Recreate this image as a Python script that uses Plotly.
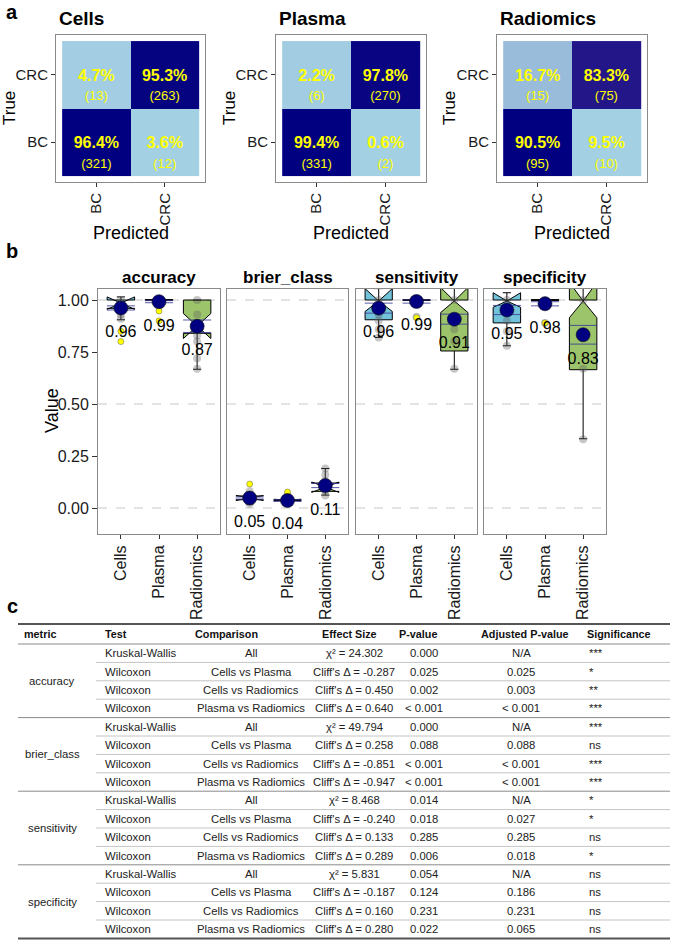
import numpy as np
import plotly.graph_objects as go

W, H = 673, 945
FONT = "Liberation Sans, Arial, Helvetica, sans-serif"

# ---------------- panel a data ----------------
cm_titles = ["Cells", "Plasma", "Radiomics"]
cm_labels = ["BC", "CRC"]
# rows = True class (BC, CRC); columns = Predicted class (BC, CRC)
cells_pct = [[96.4, 3.6], [4.7, 95.3]]
cells_n = [[321, 12], [13, 263]]
plasma_pct = [[99.4, 0.6], [2.2, 97.8]]
plasma_n = [[331, 2], [6, 270]]
radiomics_pct = [[90.5, 9.5], [16.7, 83.3]]
radiomics_n = [[95, 10], [15, 75]]

# ---------------- panel b data ----------------
metrics = ["accuracy", "brier_class", "sensitivity", "specificity"]
groups = ["Cells", "Plasma", "Radiomics"]
box_q1 = {"accuracy": [0.96, 1.0, 0.84], "brier_class": [0.040, 0.036, 0.080],
          "sensitivity": [0.905, 1.0, 0.755], "specificity": [0.89, 1.0, 0.665]}
box_med = {"accuracy": [0.985, 1.0, 0.875], "brier_class": [0.048, 0.038, 0.100],
           "sensitivity": [1.0, 1.0, 1.0], "specificity": [1.0, 1.0, 1.0]}
box_q3 = {"accuracy": [1.0, 1.0, 1.0], "brier_class": [0.058, 0.041, 0.120],
          "sensitivity": [1.0, 1.0, 1.0], "specificity": [1.0, 1.0, 1.0]}
box_lo = {"accuracy": [0.905, 1.0, 0.667], "brier_class": [0.020, 0.030, 0.062],
          "sensitivity": [0.82, 1.0, 0.667], "specificity": [0.78, 1.0, 0.333]}
box_hi = {"accuracy": [1.0, 1.0, 1.0], "brier_class": [0.075, 0.050, 0.190],
          "sensitivity": [1.0, 1.0, 1.0], "specificity": [1.0, 1.0, 1.0]}
box_notch = {"accuracy": [0.03, 0.002, 0.06], "brier_class": [0.012, 0.004, 0.025],
             "sensitivity": [0.055, 0.002, 0.06], "specificity": [0.035, 0.002, 0.085]}
means = {"accuracy": [0.962, 0.992, 0.874], "brier_class": [0.048, 0.036, 0.108],
         "sensitivity": [0.961, 0.993, 0.908], "specificity": [0.952, 0.982, 0.833]}
mean_ci = {"accuracy": [0.01, 0.005, 0.03], "brier_class": [0.005, 0.004, 0.01],
           "sensitivity": [0.024, 0.008, 0.024], "specificity": [0.022, 0.01, 0.045]}
points = {
    "accuracy": [[1.0, 0.98, 0.96, 0.93, 0.91], [1.0, 0.97], [1.0, 0.93, 0.83, 0.80, 0.72, 0.67]],
    "brier_class": [[0.02, 0.03, 0.045, 0.06, 0.08], [0.03, 0.035, 0.045, 0.06],
                    [0.06, 0.08, 0.10, 0.13, 0.16, 0.19]],
    "sensitivity": [[1.0, 0.93, 0.90, 0.86, 0.82], [1.0, 0.92], [1.0, 0.86, 0.80, 0.67]],
    "specificity": [[1.0, 0.90, 0.85, 0.78], [1.0, 0.89], [1.0, 0.67, 0.33]],
}
outliers = {
    "accuracy": [[0.85, 0.80], [0.947, 0.90], []],
    "brier_class": [[0.115], [0.077], []],
    "sensitivity": [[], [0.915], []],
    "specificity": [[], [0.89], []],
}
y_ticks = [0.0, 0.25, 0.5, 0.75, 1.0]
ref_lines = [0.0, 0.5, 1.0]

# ---------------- panel c data ----------------
tbl_header = ["metric", "Test", "Comparison", "Effect Size", "P-value", "Adjusted P-value", "Significance"]
tbl_metric = ["accuracy", "brier_class", "sensitivity", "specificity"]
tbl_test = ["Kruskal-Wallis", "Wilcoxon", "Wilcoxon", "Wilcoxon"] * 4
tbl_comp = ["All", "Cells vs Plasma", "Cells vs Radiomics", "Plasma vs Radiomics"] * 4
tbl_effect = ["χ² = 24.302", "Cliff's Δ = -0.287", "Cliff's Δ = 0.450", "Cliff's Δ = 0.640",
              "χ² = 49.794", "Cliff's Δ = 0.258", "Cliff's Δ = -0.851", "Cliff's Δ = -0.947",
              "χ² = 8.468", "Cliff's Δ = -0.240", "Cliff's Δ = 0.133", "Cliff's Δ = 0.289",
              "χ² = 5.831", "Cliff's Δ = -0.187", "Cliff's Δ = 0.160", "Cliff's Δ = 0.280"]
tbl_p = ["0.000", "0.025", "0.002", "< 0.001", "0.000", "0.088", "< 0.001", "< 0.001",
         "0.014", "0.018", "0.285", "0.006", "0.054", "0.124", "0.231", "0.022"]
tbl_padj = ["N/A", "0.025", "0.003", "< 0.001", "N/A", "0.088", "< 0.001", "< 0.001",
            "N/A", "0.027", "0.285", "0.018", "N/A", "0.186", "0.231", "0.065"]
tbl_sig = ["***", "*", "**", "***", "***", "ns", "***", "***",
           "*", "*", "ns", "*", "ns", "ns", "ns", "ns"]


def fx(x):
    return x / W


def fy(y):
    return 1 - y / H


# ---- Lab interpolation for the gradient (light blue -> navy) ----
def _lin(c):
    c = c / 255.0
    return np.where(c <= 0.04045, c / 12.92, ((c + 0.055) / 1.055) ** 2.4)


def _unlin(c):
    c = np.where(c <= 0.0031308, 12.92 * c, 1.055 * np.power(np.clip(c, 0, None), 1 / 2.4) - 0.055)
    return np.clip(np.round(c * 255), 0, 255)


M = np.array([[0.4124, 0.3576, 0.1805], [0.2126, 0.7152, 0.0722], [0.0193, 0.1192, 0.9505]])
WP = np.array([0.95047, 1.0, 1.08883])


def rgb2lab(rgb):
    xyz = M @ _lin(np.array(rgb, float)) / WP
    f = np.where(xyz > 0.008856, np.cbrt(xyz), 7.787 * xyz + 16 / 116)
    return np.array([116 * f[1] - 16, 500 * (f[0] - f[1]), 200 * (f[1] - f[2])])


def lab2rgb(lab):
    fy_ = (lab[0] + 16) / 116
    fx_ = fy_ + lab[1] / 500
    fz_ = fy_ - lab[2] / 200
    f = np.array([fx_, fy_, fz_])
    xyz = np.where(f ** 3 > 0.008856, f ** 3, (f - 16 / 116) / 7.787) * WP
    return _unlin(np.linalg.inv(M) @ xyz)


lo_lab, hi_lab = rgb2lab((163, 208, 227)), rgb2lab((0, 0, 128))
scale = []
for t in np.linspace(0, 1, 21):
    c = lab2rgb(lo_lab + (hi_lab - lo_lab) * t)
    scale.append([float(t), "rgb(%d,%d,%d)" % tuple(int(v) for v in c)])

fig = go.Figure()
layout = {}
ann = []
shapes = []

AX_LINE = "#8a8a8a"
TICK_C = "#333333"

# ---------------- panel a ----------------
cm_sets = [(cells_pct, cells_n), (plasma_pct, plasma_n), (radiomics_pct, radiomics_n)]
cm_xdom = [(56, 205), (276, 426), (497, 647)]
cm_ydom = (35, 182)
cm_true_x = [9, 229, 449]
for i, (pct, cnt) in enumerate(cm_sets):
    k = i + 1
    xs = "x" if k == 1 else f"x{k}"
    ys = "y" if k == 1 else f"y{k}"
    flat = [v for row in pct for v in row]
    fig.add_trace(go.Heatmap(z=pct, x=[1, 2], y=[1, 2], colorscale=scale, zmin=min(flat), zmax=max(flat),
                             showscale=False, hoverinfo="skip", xaxis=xs, yaxis=ys))
    tx, ty, tp, tc = [], [], [], []
    for r in range(2):
        for c in range(2):
            tx.append(c + 1)
            ty.append(r + 1)
            tp.append(f"<b>{pct[r][c]:.1f}%</b>")
            tc.append(f"({cnt[r][c]})")
    fig.add_trace(go.Scatter(x=tx, y=[v - 0.03 for v in ty], text=tp, mode="text",
                             textfont=dict(size=16, color="#ffff00", family=FONT),
                             hoverinfo="skip", xaxis=xs, yaxis=ys))
    fig.add_trace(go.Scatter(x=tx, y=[v - 0.33 for v in ty], text=tc, mode="text",
                             textfont=dict(size=13, color="#ffff00", family=FONT),
                             hoverinfo="skip", xaxis=xs, yaxis=ys))
    xk = "xaxis" if k == 1 else f"xaxis{k}"
    yk = "yaxis" if k == 1 else f"yaxis{k}"
    layout[xk] = dict(domain=[fx(cm_xdom[i][0]), fx(cm_xdom[i][1])], anchor=ys, range=[0.41, 2.59],
                      tickvals=[1, 2], ticktext=cm_labels, tickangle=-90, ticks="outside", ticklen=4,
                      tickcolor=TICK_C, tickfont=dict(size=15, color="#1a1a1a"), showline=True, mirror=True,
                      linecolor=AX_LINE, linewidth=1, showgrid=False, zeroline=False, fixedrange=True)
    layout[yk] = dict(domain=[fy(cm_ydom[1]), fy(cm_ydom[0])], anchor=xs, range=[0.41, 2.59],
                      tickvals=[1, 2], ticktext=cm_labels, ticks="outside", ticklen=4,
                      tickcolor=TICK_C, tickfont=dict(size=15, color="#1a1a1a"), showline=True, mirror=True,
                      linecolor=AX_LINE, linewidth=1, showgrid=False, zeroline=False, fixedrange=True)
    ann.append(dict(text=f"<b>{cm_titles[i]}</b>", x=fx(cm_xdom[i][0] + 1), y=fy(18), xref="paper", yref="paper",
                    xanchor="left", yanchor="middle", showarrow=False, font=dict(size=19, family=FONT)))
    ann.append(dict(text="True", x=fx(cm_true_x[i]), y=fy(108), xref="paper", yref="paper", textangle=-90,
                    xanchor="center", yanchor="middle", showarrow=False, font=dict(size=17, family=FONT)))
    ann.append(dict(text="Predicted", x=fx((cm_xdom[i][0] + cm_xdom[i][1]) / 2), y=fy(233), xref="paper",
                    yref="paper", xanchor="center", yanchor="middle", showarrow=False,
                    font=dict(size=18, family=FONT)))

# ---------------- panel b ----------------
b_xdom = [(98, 220), (227, 348), (356, 477), (484, 606)]
b_ydom = (289, 534)
box_fill = ["#72C2DA", "#8C9AD8", "#9CC46B"]
for j, m in enumerate(metrics):
    k = 4 + j
    xs, ys = f"x{k}", f"y{k}"
    for g in range(3):
        fig.add_trace(go.Box(x=[groups[g]], q1=[box_q1[m][g]], median=[box_med[m][g]], q3=[box_q3[m][g]],
                             lowerfence=[box_lo[m][g]], upperfence=[box_hi[m][g]],
                             notchspan=[box_notch[m][g]], notched=True, notchwidth=0.5, width=0.72,
                             whiskerwidth=0.3, fillcolor=box_fill[g], line=dict(color="black", width=1),
                             boxpoints=False, hoverinfo="skip", xaxis=xs, yaxis=ys))
    for g in range(3):
        fig.add_trace(go.Scatter(x=[groups[g]] * len(points[m][g]), y=points[m][g], mode="markers",
                                 marker=dict(size=8, color="rgba(95,95,95,0.35)"),
                                 hoverinfo="skip", xaxis=xs, yaxis=ys))
    for g in range(3):
        if outliers[m][g]:
            fig.add_trace(go.Scatter(x=[groups[g]] * len(outliers[m][g]), y=outliers[m][g], mode="markers",
                                     marker=dict(size=6, color="#ffff00",
                                                 line=dict(color="rgba(70,70,70,0.7)", width=0.6)),
                                     hoverinfo="skip", xaxis=xs, yaxis=ys))
    ci_y = [means[m][g] + s * mean_ci[m][g] for s in (1, -1) for g in range(3)]
    fig.add_trace(go.Scatter(x=groups * 2, y=ci_y, mode="markers",
                             marker=dict(symbol="line-ew", size=20, line=dict(color="rgba(60,60,150,0.85)", width=1)),
                             hoverinfo="skip", xaxis=xs, yaxis=ys))
    fig.add_trace(go.Scatter(x=groups, y=means[m], mode="markers",
                             marker=dict(size=14, color="#000080", line=dict(color="#111111", width=0.6)),
                             hoverinfo="skip", xaxis=xs, yaxis=ys))
    fig.add_trace(go.Scatter(x=groups, y=[v - 0.12 for v in means[m]], text=[f"{v:.2f}" for v in means[m]],
                             mode="text", textfont=dict(size=16, color="black", family=FONT), cliponaxis=False,
                             hoverinfo="skip", xaxis=xs, yaxis=ys))
    layout[f"xaxis{k}"] = dict(domain=[fx(b_xdom[j][0]), fx(b_xdom[j][1])], anchor=ys, type="category",
                               categoryorder="array", categoryarray=groups, range=[-0.6, 2.6],
                               tickangle=-90, ticks="outside", ticklen=4, tickcolor=TICK_C,
                               tickfont=dict(size=16, color="#1a1a1a"), showline=True, mirror=True,
                               linecolor=AX_LINE, linewidth=1, showgrid=False, zeroline=False, fixedrange=True)
    layout[f"yaxis{k}"] = dict(domain=[fy(b_ydom[1]), fy(b_ydom[0])], anchor=xs, range=[-0.125, 1.053],
                               tickvals=y_ticks, ticktext=[f"{v:.2f}" for v in y_ticks],
                               showticklabels=(j == 0), ticks="outside" if j == 0 else "", ticklen=5,
                               tickcolor=TICK_C, tickfont=dict(size=16, color="#1a1a1a"), showline=True,
                               mirror=True, linecolor=AX_LINE, linewidth=1, showgrid=False, zeroline=False,
                               fixedrange=True)
    for v in ref_lines:
        shapes.append(dict(type="line", xref=f"x{k} domain", yref=ys, x0=0, x1=1, y0=v, y1=v, layer="below",
                           line=dict(color="#c8c8c8", width=1, dash="dash")))
    ann.append(dict(text=f"<b>{m}</b>", x=fx((b_xdom[j][0] + b_xdom[j][1]) / 2), y=fy(277), xref="paper",
                    yref="paper", xanchor="center", yanchor="middle", showarrow=False,
                    font=dict(size=17, family=FONT)))
ann.append(dict(text="Value", x=fx(52), y=fy(411), xref="paper", yref="paper", textangle=-90,
                xanchor="center", yanchor="middle", showarrow=False, font=dict(size=18, family=FONT)))

# ---------------- panel labels ----------------
ann.append(dict(text="<b>a</b>", x=fx(12), y=fy(0), xref="paper", yref="paper", xanchor="center",
                yanchor="top", borderpad=0, showarrow=False, font=dict(size=20, family=FONT)))
for lab, (lx, ly) in zip(["b", "c"], [(12, 251), (12, 606)]):
    ann.append(dict(text=f"<b>{lab}</b>", x=fx(lx), y=fy(ly), xref="paper", yref="paper", xanchor="center",
                    yanchor="middle", showarrow=False, font=dict(size=20, family=FONT)))

# ---------------- panel c (table) ----------------
T_LEFT, T_RIGHT = 18, 670
T_TOP, HEAD_Y, HEAD_BOT, ROW_H = 624, 634, 644, 18.4
head_x = [22, 103, 193, 320, 397, 479, 585]
val_x = [52, 103, 251, 354, 424, 521, 587]
val_anchor = ["center", "left", "center", "center", "center", "center", "left"]
SUB_LINE_X = 96
HEAD_SIZE, BODY_SIZE = 10.8, 11.3
for h, x in zip(tbl_header, head_x):
    ann.append(dict(text=f"<b>{h}</b>", x=fx(x), y=fy(HEAD_Y), xref="paper", yref="paper", xanchor="left",
                    yanchor="middle", showarrow=False, font=dict(size=HEAD_SIZE, family=FONT, color="#111111")))
cols = [tbl_test, tbl_comp, tbl_effect, tbl_p, tbl_padj, tbl_sig]
n_rows = len(tbl_test)
for r in range(n_rows):
    yc = HEAD_BOT + ROW_H * (r + 0.5)
    for ci, col in enumerate(cols):
        ann.append(dict(text=col[r], x=fx(val_x[ci + 1]), y=fy(yc), xref="paper", yref="paper",
                        xanchor=val_anchor[ci + 1], yanchor="middle", showarrow=False,
                        font=dict(size=BODY_SIZE, family=FONT, color="#222222")))
for gi, mname in enumerate(tbl_metric):
    yc = HEAD_BOT + ROW_H * (4 * gi + 2)
    ann.append(dict(text=mname, x=fx(val_x[0]), y=fy(yc), xref="paper", yref="paper", xanchor="center",
                    yanchor="middle", showarrow=False, font=dict(size=BODY_SIZE, family=FONT, color="#222222")))
for r in range(n_rows + 1):
    yl = HEAD_BOT + ROW_H * r
    if r == n_rows:
        shapes.append(dict(type="line", xref="paper", yref="paper", x0=fx(T_LEFT), x1=fx(T_RIGHT),
                           y0=fy(yl), y1=fy(yl), line=dict(color="#555555", width=2)))
    elif r % 4 == 0:
        shapes.append(dict(type="line", xref="paper", yref="paper", x0=fx(T_LEFT), x1=fx(T_RIGHT),
                           y0=fy(yl), y1=fy(yl), line=dict(color="#8a8a8a", width=1)))
    else:
        shapes.append(dict(type="line", xref="paper", yref="paper", x0=fx(SUB_LINE_X), x1=fx(T_RIGHT),
                           y0=fy(yl), y1=fy(yl), line=dict(color="#c4c4c4", width=1)))
shapes.append(dict(type="line", xref="paper", yref="paper", x0=fx(T_LEFT), x1=fx(T_RIGHT),
                   y0=fy(T_TOP), y1=fy(T_TOP), line=dict(color="#555555", width=2)))

fig.update_layout(width=W, height=H, margin=dict(l=0, r=0, t=0, b=0), autosize=False,
                  paper_bgcolor="white", plot_bgcolor="white", showlegend=False, boxmode="overlay",
                  font=dict(family=FONT, color="black"), annotations=ann, shapes=shapes, **layout)
fig.write_html("out.html")
